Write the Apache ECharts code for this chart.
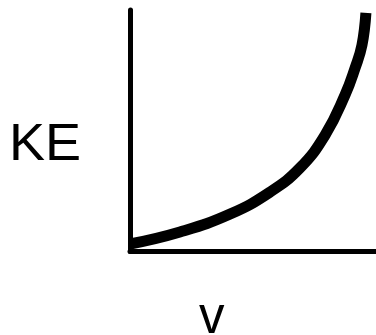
<!DOCTYPE html>
<html>
<head>
<meta charset="utf-8">
<script src="https://cdn.jsdelivr.net/npm/echarts@6/dist/echarts.min.js"></script>
<style>
  html, body { margin: 0; padding: 0; background: #fff; }
  #chart { width: 376px; height: 335px; }
</style>
</head>
<body>
<div id="chart"></div>
<script>
// Kinetic energy rising with speed: KE grows ever faster as v increases
const velocity = [0, 2.03, 4.07, 5.69, 6.91, 7.93, 8.74, 9.15, 9.43, 9.59];
const kineticEnergy = [0.31, 0.81, 1.55, 2.46, 3.46, 4.82, 6.48, 7.60, 8.55, 9.88];
const xTitle = 'v';
const yTitle = 'KE';

const chart = echarts.init(document.getElementById('chart'), null, { renderer: 'canvas' });

const points = velocity.map((v, i) => [v, kineticEnergy[i]]);
const font = '"Liberation Sans", Arial, sans-serif';

chart.setOption({
  animation: false,
  backgroundColor: '#ffffff',
  grid: { left: 130, top: 10, right: 0, bottom: 83.5, containLabel: false },
  xAxis: {
    type: 'value', min: 0, max: 10,
    axisLine: { show: true, lineStyle: { color: '#000', width: 5 } },
    axisTick: { show: false }, axisLabel: { show: false }, splitLine: { show: false }
  },
  yAxis: {
    type: 'value', min: 0, max: 10,
    axisLine: { show: true, lineStyle: { color: '#000', width: 5 } },
    axisTick: { show: false }, axisLabel: { show: false }, splitLine: { show: false }
  },
  graphic: [
    {
      type: 'text', x: 9, y: 146, silent: true, scaleX: 1.06,
      style: { text: yTitle, font: '51px ' + font, fill: '#000', textAlign: 'left', textVerticalAlign: 'middle' }
    },
    {
      type: 'text', x: 211.7, y: 319, silent: true,
      style: { text: xTitle, font: '51px ' + font, fill: '#000', textAlign: 'center', textVerticalAlign: 'middle' }
    }
  ],
  series: [{
    type: 'line',
    data: points,
    smooth: 0.45,
    symbol: 'none',
    clip: false,
    lineStyle: { color: '#000', width: 11, cap: 'butt', join: 'round' }
  }]
});
</script>
</body>
</html>
